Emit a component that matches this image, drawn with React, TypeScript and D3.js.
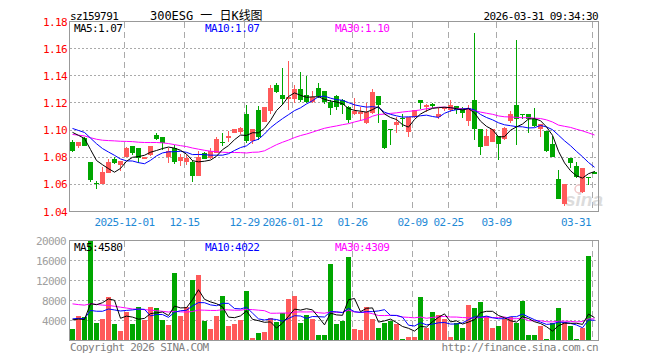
import React from 'react';
import * as d3 from 'd3';

const symbolCode = 'sz159791';
const chartTitle = '300ESG 一 日K线图';
const timestamp = '2026-03-31 09:34:30';

// daily candles
const opens = [1.0914,1.0885,1.0944,1.0765,1.0610,1.0604,1.0687,1.0787,1.0743,1.0800,
1.0883,1.0870,1.0787,1.0817,1.0963,1.0949,1.0799,1.0870,1.0775,1.0765,
1.0765,1.0663,1.0829,1.0792,1.0829,1.0912,1.0939,1.0980,1.0988,1.1117,
1.0920,1.1147,1.1063,1.1139,1.1335,1.1257,1.1232,1.1232,1.1300,1.1257,
1.1208,1.1310,1.1286,1.1208,1.1250,1.1225,1.1171,1.1122,1.1122,1.1049,
1.1127,1.1252,1.1073,1.1006,1.1037,1.1092,1.0988,1.1093,1.1220,1.1170,
1.1191,1.1093,1.1157,1.1147,1.1176,1.1166,1.1068,1.1220,1.1008,1.0883,
1.0914,1.0956,1.0934,1.1066,1.1183,1.1115,1.1117,1.1083,1.1010,1.0993,
1.0897,1.0640,1.0454,1.0794,1.0738,1.0547,1.0657,1.0690];
const highs = [1.0926,1.0910,1.0950,1.0765,1.0628,1.0726,1.0787,1.0800,1.0772,1.0878,
1.0883,1.0870,1.0804,1.0883,1.0980,1.0949,1.0865,1.0890,1.0824,1.0817,
1.0780,1.0846,1.0836,1.0865,1.0950,1.0975,1.0990,1.1005,1.1025,1.1183,
1.1008,1.1175,1.1171,1.1335,1.1347,1.1458,1.1507,1.1330,1.1428,1.1397,
1.1290,1.1347,1.1290,1.1220,1.1260,1.1230,1.1175,1.1240,1.1170,1.1200,
1.1300,1.1252,1.1073,1.1006,1.1098,1.1122,1.1093,1.1150,1.1222,1.1190,
1.1200,1.1160,1.1170,1.1220,1.1180,1.1170,1.1184,1.1717,1.1008,1.1008,
1.1008,1.0956,1.1025,1.1142,1.1661,1.1117,1.1117,1.1166,1.1044,1.0993,
1.0958,1.0706,1.0603,1.0794,1.0767,1.0723,1.0657,1.0695];
const lows = [1.0838,1.0870,1.0880,1.0620,1.0569,1.0600,1.0685,1.0752,1.0700,1.0800,
1.0817,1.0755,1.0787,1.0810,1.0926,1.0853,1.0760,1.0750,1.0736,1.0743,
1.0620,1.0658,1.0787,1.0787,1.0829,1.0885,1.0909,1.0980,1.0970,1.0902,
1.0895,1.0930,1.1060,1.1120,1.1270,1.1183,1.1147,1.1196,1.1208,1.1200,
1.1200,1.1240,1.1190,1.1110,1.1150,1.1122,1.1054,1.1110,1.1070,1.1044,
1.1120,1.1054,1.0858,1.0890,1.0976,1.1024,1.0946,1.1090,1.1152,1.1135,
1.1160,1.1083,1.1140,1.1135,1.1115,1.1090,1.1032,1.0930,1.0816,1.0880,
1.0910,1.0780,1.0930,1.1054,1.0890,1.1080,1.0980,1.1020,1.0946,1.0840,
1.0800,1.0490,1.0437,1.0718,1.0650,1.0540,1.0596,1.0675];
const closes = [1.0846,1.0910,1.0885,1.0633,1.0606,1.0689,1.0765,1.0755,1.0772,1.0870,
1.0834,1.0792,1.0804,1.0883,1.0934,1.0907,1.0846,1.0765,1.0804,1.0792,
1.0665,1.0804,1.0787,1.0846,1.0934,1.0907,1.0953,1.1005,1.1017,1.0920,
1.1007,1.0950,1.1171,1.1310,1.1281,1.1228,1.1245,1.1306,1.1220,1.1208,
1.1245,1.1250,1.1208,1.1160,1.1170,1.1184,1.1073,1.1139,1.1130,1.1135,
1.1277,1.1184,1.0865,1.1002,1.1061,1.1088,1.1093,1.1147,1.1201,1.1183,
1.1176,1.1117,1.1166,1.1183,1.1147,1.1127,1.1166,1.1010,1.0878,1.0956,
1.1008,1.0897,1.1017,1.1117,1.1078,1.1112,1.1083,1.1029,1.1044,1.0848,
1.0804,1.0493,1.0603,1.0755,1.0657,1.0723,1.0655,1.0680];
const volumes = [2400,5000,4800,20000,3600,4400,8800,3400,2000,5800,
3400,6700,4200,6800,6600,4200,3200,13600,5000,6800,
12200,13200,4000,2400,5000,9000,3000,3400,4200,10000,
600,1600,1800,4600,3800,5600,8400,9000,3600,5200,
4400,1200,1200,15400,3400,4000,16800,2400,2200,6800,
4400,2600,3600,4000,3400,400,800,800,8800,2600,
5800,5200,4250,800,3600,2600,7200,6600,7800,5000,
2600,3000,4400,4800,3600,8000,1200,1200,3000,400,
3600,6600,3720,2900,400,2500,16900,200];

// sessions before the visible window (estimated from where the MA lines start)
const priorCloses = [1.108,1.104,1.103,1.095,1.090,1.085,1.082,1.086,1.090,1.088,
1.092,1.087,1.089,1.0927,1.098,1.101,1.100,1.103,1.099,1.099,
1.106,1.103,1.105,1.102,1.1045,1.102,1.100,1.104,1.1009];
const priorVolumes = [9500,8000,12000,7000,9000,10500,8500,7500,11000,9000,
8000,7000,9500,10000,8000,7500,9000,8500,8000,9100,
4000,5200,3800,5150,4500,4200,5300,4100,4650];

const dateTickIndex = [9, 19, 29, 37, 47, 57, 63, 71, 87];
const dateTickLabels = ['2025-12-01', '12-15', '12-29', '2026-01-12', '01-26', '02-09', '02-25', '03-09', '03-31'];
const priceTicks = [1.04, 1.06, 1.08, 1.10, 1.12, 1.14, 1.16, 1.18];
const volumeTicks = [4000, 8000, 12000, 16000, 20000];

const UP = '#ff5a5a';
const DOWN = '#00a600';
const MONO = "'DejaVu Sans Mono', 'Liberation Mono', monospace";

export default function App() {
  const n = closes.length;
  const idx = d3.range(n);
  const x = d3.scaleBand<number>().domain(idx).range([69.5, 597.5]).paddingInner(1 / 6).paddingOuter(1 / 12);
  const bw = x.bandwidth();
  const cx = (i: number) => (x(i) as number) + bw / 2;
  const y = d3.scaleLinear().domain([1.04, 1.18]).range([211.5, 21.5]);
  const yv = d3.scaleLinear().domain([0, 20000]).range([340.5, 240.5]);

  const P = priorCloses.length;
  const allC = priorCloses.concat(closes);
  const allV = priorVolumes.concat(volumes);
  const ma = (arr: number[], k: number) => idx.map((i) => d3.mean(arr.slice(P + i - k + 1, P + i + 1)) as number);
  const pm5 = ma(allC, 5), pm10 = ma(allC, 10), pm30 = ma(allC, 30);
  const vm5 = ma(allV, 5), vm10 = ma(allV, 10), vm30 = ma(allV, 30);

  const lineP = d3.line<number>().x((_, i) => cx(i)).y((d) => y(d));
  const lineV = d3.line<number>().x((_, i) => cx(i)).y((d) => yv(d));

  const crisp = (v: number) => Math.floor(v) + 0.5;
  const textStyle = { fontFamily: MONO, fontSize: 11, letterSpacing: '-0.6px' } as React.CSSProperties;
  const gridV = dateTickIndex.map((i) => (x(i) as number) + 0.5);

  return (
    <svg width={660} height={360} style={{ position: 'absolute', left: 0, top: 0, background: '#fff' }}>
      <rect x={0} y={0} width={660} height={360} fill="#fff" />
      {/* header */}
      <text x={70} y={20} style={textStyle} fill="#000">{symbolCode}</text>
      <text x={150} y={20} style={{ ...textStyle, fontFamily: "'DejaVu Sans Mono', 'Noto Sans CJK SC', monospace", fontSize: 12 }} textLength={112} lengthAdjust="spacing" fill="#000">{chartTitle}</text>
      <text x={598} y={20} textAnchor="end" style={textStyle} fill="#000">{timestamp}</text>

      {/* price panel grid */}
      {priceTicks.filter((t) => t > 1.041 && t < 1.179).map((t) => (
        <line key={'hg' + t} x1={70} x2={598} y1={crisp(y(t))} y2={crisp(y(t))} stroke="#aaa" strokeDasharray="2,2" />
      ))}
      {gridV.map((gx, k) => (
        <line key={'vg' + k} x1={gx} x2={gx} y1={22} y2={211} stroke="#aaa" strokeDasharray="6,4" />
      ))}
      {priceTicks.map((t) => (
        <text key={'pl' + t} x={67} y={y(t) + 4} textAnchor="end" style={textStyle} fill="#f00">{t.toFixed(2)}</text>
      ))}
      <text x={565} y={206} style={{ fontFamily: "'Liberation Sans', Arial, sans-serif", fontSize: 19, fontStyle: 'italic', fontWeight: 'bold' }} fill="#dcdcdc">sina</text>
      <circle cx={579} cy={189} r={4} fill="none" stroke="#f0c8c8" strokeWidth={1.5} />

      {/* candles */}
      {idx.map((i) => {
        const o = opens[i], c = closes[i];
        const col = c >= o ? UP : DOWN;
        const top = y(Math.max(o, c));
        const h = Math.max(1, Math.abs(y(o) - y(c)));
        return (
          <g key={'c' + i} shapeRendering="crispEdges">
            <line x1={cx(i)} x2={cx(i)} y1={y(highs[i])} y2={y(lows[i])} stroke={col} />
            <rect x={x(i)} y={top} width={bw} height={h} fill={col} />
          </g>
        );
      })}
      <path d={lineP(pm30) || ''} fill="none" stroke="#ff00ff" strokeWidth={1} />
      <path d={lineP(pm10) || ''} fill="none" stroke="#0000ff" strokeWidth={1} />
      <path d={lineP(pm5) || ''} fill="none" stroke="#000" strokeWidth={1} />
      <rect x={69.5} y={21.5} width={529} height={190} fill="none" stroke="#999" />
      <text x={74} y={32} style={textStyle} fill="#000">{'MA5:' + pm5[n - 1].toFixed(2)}</text>
      <text x={205} y={32} style={textStyle} fill="#0000ff">{'MA10:' + pm10[n - 1].toFixed(2)}</text>
      <text x={335} y={32} style={textStyle} fill="#ff00ff">{'MA30:' + pm30[n - 1].toFixed(2)}</text>

      {/* date labels */}
      {dateTickIndex.map((i, k) => {
        const lab = dateTickLabels[k];
        const w = lab.length * 6;
        const gx = gridV[k];
        const over = gx + w / 2 > 591;
        return (
          <text key={'dl' + k} x={over ? 591 : gx} y={226} textAnchor={over ? 'end' : 'middle'} style={textStyle} fill="#1f8ad6">{lab}</text>
        );
      })}

      {/* volume panel */}
      {volumeTicks.filter((t) => t < 20000).map((t) => (
        <line key={'vh' + t} x1={70} x2={598} y1={crisp(yv(t))} y2={crisp(yv(t))} stroke="#aaa" strokeDasharray="2,2" />
      ))}
      {gridV.map((gx, k) => (
        <line key={'vv' + k} x1={gx} x2={gx} y1={241} y2={340} stroke="#aaa" strokeDasharray="6,4" />
      ))}
      {volumeTicks.map((t) => (
        <text key={'vl' + t} x={66} y={yv(t) + 4} textAnchor="end" style={textStyle} fill="#a0a0a0">{t}</text>
      ))}
      {idx.map((i) => (
        <rect key={'v' + i} x={x(i)} y={yv(volumes[i])} width={bw} height={Math.max(0, 340 - yv(volumes[i]))}
          fill={closes[i] >= opens[i] ? UP : DOWN} shapeRendering="crispEdges" />
      ))}
      <path d={lineV(vm30) || ''} fill="none" stroke="#ff00ff" strokeWidth={1} />
      <path d={lineV(vm10) || ''} fill="none" stroke="#0000ff" strokeWidth={1} />
      <path d={lineV(vm5) || ''} fill="none" stroke="#000" strokeWidth={1} />
      <rect x={69.5} y={240.5} width={529} height={100} fill="none" stroke="#999" />
      <text x={74} y={251} style={textStyle} fill="#000">{'MA5:' + Math.round(vm5[n - 1])}</text>
      <text x={205} y={251} style={textStyle} fill="#0000ff">{'MA10:' + Math.round(vm10[n - 1])}</text>
      <text x={335} y={251} style={textStyle} fill="#ff00ff">{'MA30:' + Math.round(vm30[n - 1])}</text>

      <text x={70} y={351} style={textStyle} fill="#808080">Copyright 2026 SINA.COM</text>
      <text x={598} y={351} textAnchor="end" style={textStyle} fill="#808080">http://finance.sina.com.cn</text>
    </svg>
  );
}
